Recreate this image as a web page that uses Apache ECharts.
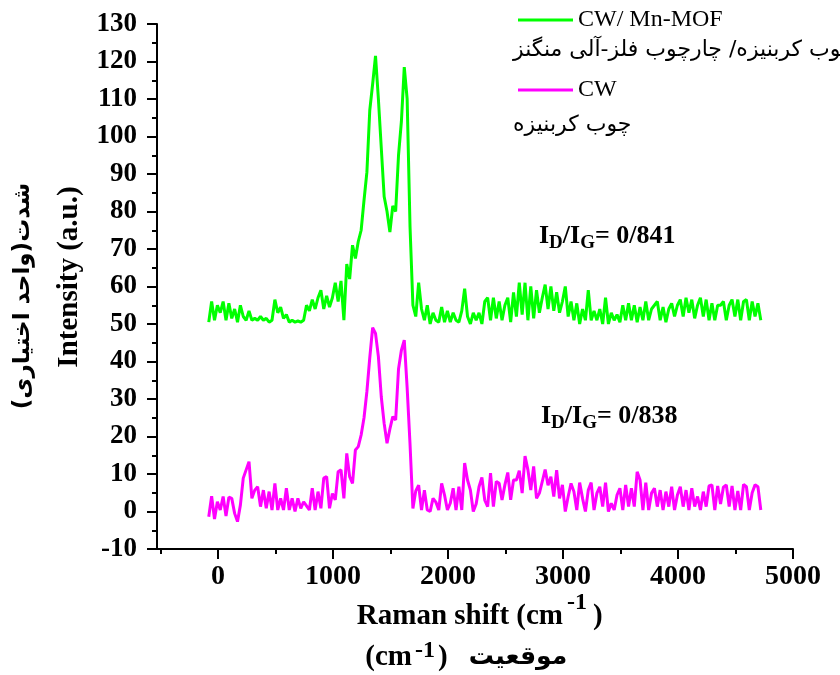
<!DOCTYPE html>
<html>
<head>
<meta charset="utf-8">
<title>Raman CW / Mn-MOF</title>
<script src="https://cdn.jsdelivr.net/npm/echarts@6/dist/echarts.min.js"></script>
<style>
  html, body { margin: 0; padding: 0; background: #fff; }
  #chart { width: 840px; height: 675px; }
</style>
</head>
<body>
<div id="chart"></div>
<script>
  // spectra are sampled every 25 cm-1 starting at -80 cm-1
  var shiftStart = -80;
  var shiftStep = 25;

  // CW/ Mn-MOF (green, offset by 50)
  var mofValues = [
    50.5, 56, 51, 55, 53, 56, 51, 55.5,
    51.5, 54, 50.5, 55, 52, 51, 53.5, 51,
    51.5, 51, 52, 51, 51.5, 50.5, 51, 56.5,
    53, 54.5, 51.5, 52.5, 50.5, 51, 50.5, 50.8,
    50.5, 51, 55, 53.5, 56.5, 54, 57, 59,
    54, 57.5, 54.5, 57, 61, 56, 61.5, 51,
    66, 62, 71, 67.5, 72, 75, 83, 90.5,
    107, 114, 121.5, 110, 97, 84, 80, 74.5,
    81.5, 80, 95, 104, 118.5, 110, 76, 55,
    52, 61, 54, 51, 55, 50, 53, 51,
    50.5, 54.5, 50.5, 53.5, 50.5, 53, 51, 50.5,
    53.5, 59.4, 52, 50, 53, 51, 53, 50,
    56, 57, 51, 57, 51.5, 56, 51, 55,
    57, 50.5, 58.4, 52, 61, 52.5, 61, 51,
    60, 51.5, 59, 53, 57, 60.5, 54, 60,
    53.5, 58.5, 53, 56, 60, 52, 56, 51,
    55.5, 50, 54, 51, 59, 51, 53.5, 51,
    54, 50, 57, 50, 53, 51, 52.5, 50.5,
    55, 51, 55.5, 51, 55, 50.5, 54.5, 51,
    56, 51, 54, 55, 56, 51, 54.5, 50.5,
    54, 55.5, 52, 55, 56.5, 52, 57, 53,
    56.5, 51.5, 55, 57, 52, 56.5, 51, 55.5,
    51, 55, 55, 56, 51, 55, 56.5, 52,
    56.5, 51, 56, 56.5, 51, 56, 52, 55.5,
    51
  ];

  // CW (magenta)
  var cwValues = [
    -1.4, 4.1, -2, 2.6, 0.4, 4, -1.2, 3.8,
    3.5, -0.5, -2.7, 1.7, 8.9, 11.1, 13.3, 3.5,
    5.7, 6.6, 1.3, 5.7, 0.85, 5.3, 0.4, 7.5,
    0.4, 3.5, 0.4, 6.2, 0.4, 3.5, 0, 3.5,
    0.85, 2.6, 1.5, 0.4, 6.2, 0.4, 5.3, 0.85,
    8.9, 9.3, 0.85, 4.8, 3.1, 10.6, 11.1, 3.5,
    15.5, 9.3, 7.5, 16.4, 17.3, 20.4, 25, 32,
    41, 49, 47.5, 41.3, 30.6, 23.5, 18.2, 22,
    25.3, 24.4, 38, 43, 45.7, 33, 18, 0.8,
    5.5, 7, 0.4, 5.7, 0.4, 0, 3.5, 2.5,
    0.4, 7.5, 4.4, 0.4, 2.2, 6.2, 0.4, 6.6,
    0.4, 12.9, 8.4, 5.7, 0, 2, 6.6, 9.1,
    3, 1.3, 10.2, 1.3, 8, 7.5, 3.1, 7.1,
    10.4, 3.1, 8.4, 8.4, 10.9, 4.9, 14.8, 11.1,
    5.7, 12, 3.5, 4.9, 8, 11.2, 7, 9.3,
    4, 11, 3.5, 7.1, 0, 4, 7.5, 5.3,
    0.4, 7.7, 3.5, 0, 5.7, 7.7, 0.4, 4.9,
    6.6, 1.3, 7.7, 0, 2.2, 0.4, 4.4, 6.2,
    0.4, 7.1, 1.3, 6.2, 1.3, 10.6, 8.4, 0.4,
    7.7, 0.4, 4.9, 6.2, 1.3, 5.7, 0.4, 5.3,
    1.3, 6.6, 0.4, 4.4, 6.6, 1.3, 5.7, 0.4,
    6.2, 1.3, 4, 0.4, 5.3, 1.3, 6.8, 7.1,
    0.4, 6.8, 2, 6.5, 7.1, 1.3, 6.8, 0.4,
    5.5, 0.4, 7.2, 6.6, 0.4, 5, 7.1, 6.6,
    0.4
  ];

  var seriesNames = ['CW/ Mn-MOF', 'CW'];
  var xMajorTicks = [0, 1000, 2000, 3000, 4000, 5000];
  var xMinorTicks = [-500, 500, 1500, 2500, 3500, 4500];

  var serif = '"Liberation Serif", "Times New Roman", serif';
  var farsi = '"DejaVu Sans", sans-serif';

  function toPairs(vals) {
    var out = [];
    for (var i = 0; i < vals.length; i++) {
      out.push([shiftStart + i * shiftStep, vals[i]]);
    }
    return out;
  }

  var chart = echarts.init(document.getElementById('chart'), null, {renderer: 'canvas'});

  var legendBase = {
    icon: 'rect',
    itemWidth: 55,
    itemHeight: 3,
    selectedMode: false,
    textStyle: {fontSize: 24, fontFamily: serif, color: '#000'}
  };

  // rich styles for the I_D/I_G labels
  var ratioRich = {
    m: {font: 'bold 26px ' + serif, fill: '#000', lineHeight: 27, verticalAlign: 'top'},
    s: {font: 'bold 19px ' + serif, fill: '#000', lineHeight: 19, padding: [11, 0, 0, 0], verticalAlign: 'top'}
  };

  chart.setOption({
    animation: false,
    backgroundColor: '#fff',
    grid: {left: 157, right: 47, top: 24, bottom: 126, outerBoundsMode: 'none', containLabel: false},
    legend: [
      Object.assign({data: [seriesNames[0]], left: 513, top: 3}, legendBase),
      Object.assign({data: [seriesNames[1]], left: 513, top: 73}, legendBase)
    ],
    xAxis: [
      {
        type: 'value',
        min: -530,
        max: 5000,
        axisLine: {show: true, onZero: false, lineStyle: {color: '#000', width: 2}},
        axisTick: {show: true, customValues: xMajorTicks, length: 10, lineStyle: {color: '#000', width: 2}},
        axisLabel: {
          customValues: xMajorTicks, margin: 14, color: '#000',
          fontSize: 28, fontWeight: 'bold', fontFamily: serif,
          formatter: function (v) { return String(v); }
        },
        splitLine: {show: false}
      },
      {
        // minor ticks only
        type: 'value',
        position: 'bottom',
        offset: 0,
        min: -530,
        max: 5000,
        axisLine: {show: false, onZero: false},
        axisTick: {show: true, customValues: xMinorTicks, length: 5, lineStyle: {color: '#000', width: 2}},
        axisLabel: {show: false},
        splitLine: {show: false}
      }
    ],
    yAxis: {
      type: 'value',
      min: -10,
      max: 130,
      interval: 10,
      axisLine: {show: true, onZero: false, lineStyle: {color: '#000', width: 2}},
      axisTick: {show: true, length: 10, lineStyle: {color: '#000', width: 2}},
      minorTick: {show: true, splitNumber: 2, length: 5, lineStyle: {color: '#000', width: 2}},
      axisLabel: {margin: 20, color: '#000', fontSize: 27, fontWeight: 'bold', fontFamily: serif},
      splitLine: {show: false},
      minorSplitLine: {show: false}
    },
    series: [
      {
        name: seriesNames[0],
        type: 'line',
        data: toPairs(mofValues),
        showSymbol: false,
        lineStyle: {color: '#00ff00', width: 3},
        itemStyle: {color: '#00ff00'}
      },
      {
        name: seriesNames[1],
        type: 'line',
        data: toPairs(cwValues),
        showSymbol: false,
        lineStyle: {color: '#ff00ff', width: 3},
        itemStyle: {color: '#ff00ff'}
      }
    ],
    graphic: [
      // axis titles
      {type: 'text', x: 70, y: 277, rotation: Math.PI / 2,
        style: {text: 'Intensity (a.u.)', font: 'bold 29px ' + serif, fill: '#000', align: 'center', verticalAlign: 'middle'}},
      {type: 'text', x: 23, y: 296, rotation: Math.PI / 2,
        style: {text: 'شدت(واحد اختیاری)', font: 'bold 23px ' + farsi, fill: '#000', align: 'center', verticalAlign: 'middle'}},
      {type: 'text', x: 563, y: 617,
        style: {text: 'Raman shift (cm', font: 'bold 29px ' + serif, fill: '#000', align: 'right', verticalAlign: 'middle'}},
      {type: 'text', x: 567, y: 603,
        style: {text: '-1', font: 'bold 24px ' + serif, fill: '#000', align: 'left', verticalAlign: 'middle'}},
      {type: 'text', x: 593, y: 617,
        style: {text: ')', font: 'bold 29px ' + serif, fill: '#000', align: 'left', verticalAlign: 'middle'}},
      {type: 'text', x: 412, y: 658,
        style: {text: '(cm', font: 'bold 29px ' + serif, fill: '#000', align: 'right', verticalAlign: 'middle'}},
      {type: 'text', x: 415, y: 651,
        style: {text: '-1', font: 'bold 24px ' + serif, fill: '#000', align: 'left', verticalAlign: 'middle'}},
      {type: 'text', x: 438, y: 658,
        style: {text: ')', font: 'bold 29px ' + serif, fill: '#000', align: 'left', verticalAlign: 'middle'}},
      {type: 'text', x: 518, y: 657,
        style: {text: 'موقعیت', font: 'bold 25px ' + farsi, fill: '#000', align: 'center', verticalAlign: 'middle'}},
      // persian legend captions
      {type: 'text', x: 513, y: 50,
        style: {text: 'چوب کربنیزه/ چارچوب فلز-آلی منگنز', font: '22px ' + farsi, fill: '#000', align: 'left', verticalAlign: 'middle'}},
      {type: 'text', x: 513, y: 125,
        style: {text: 'چوب کربنیزه', font: '22px ' + farsi, fill: '#000', align: 'left', verticalAlign: 'middle'}},
      // ID/IG ratios
      {type: 'text', x: 539, y: 223,
        style: {text: '{m|I}{s|D}{m|/I}{s|G}{m|= 0/841}', rich: ratioRich}},
      {type: 'text', x: 541, y: 403,
        style: {text: '{m|I}{s|D}{m|/I}{s|G}{m|= 0/838}', rich: ratioRich}}
    ]
  });
</script>
</body>
</html>
